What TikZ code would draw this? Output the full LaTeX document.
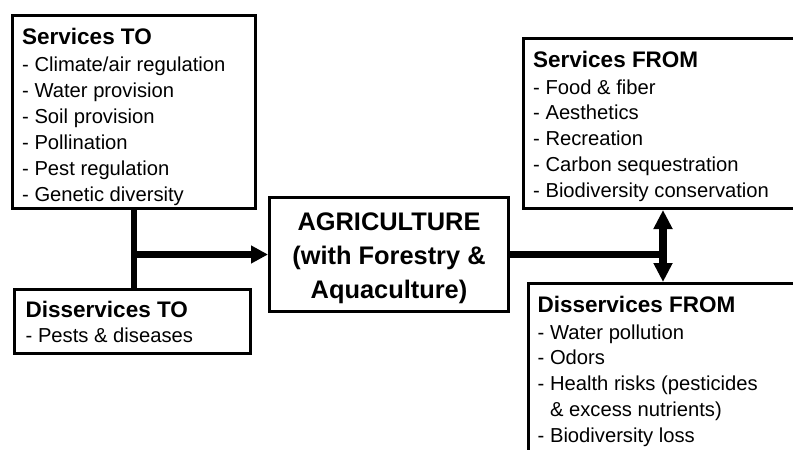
\documentclass[tikz,border=0pt]{standalone}
\usepackage{fontspec}
\setmainfont{Liberation Sans}
\usetikzlibrary{arrows.meta}
\begin{document}
\begin{tikzpicture}[x=1pt,y=-1pt,
  box/.style={draw, line width=3pt, inner sep=0pt},
  hd/.style={font=\fontsize{22.5}{27}\selectfont\bfseries, anchor=base west, inner sep=0pt},
  bd/.style={font=\fontsize{20.2}{26}\selectfont, anchor=base west, inner sep=0pt},
  ag/.style={font=\fontsize{25.4}{34}\selectfont\bfseries, anchor=base, inner sep=0pt},
  conn/.style={line width=6.5pt},
  connr/.style={line width=7.5pt},
  tipl/.style={-{Triangle[length=17pt,width=17pt]}},
  tipr/.style={{Triangle[length=19pt,width=18pt]}-{Triangle[length=19pt,width=18pt]}}]
\useasboundingbox (0,0) rectangle (793,450);
\clip (0,0) rectangle (793,450);
\fill[white] (0,0) rectangle (793,450);
% boxes
\node[box, minimum width=243pt, minimum height=193pt] (sto) at (134,112) {};
\node[box, minimum width=236pt, minimum height=64pt] (dto) at (132.5,321.5) {};
\node[box, minimum width=239pt, minimum height=114pt] (agri) at (389,254.5) {};
\node[box, minimum width=300pt, minimum height=170pt] (sfrom) at (673.5,123.5) {};
\node[box, minimum width=300pt, minimum height=200pt] (dfrom) at (678.5,383.5) {};
% connectors
\draw[conn] (sto.south) -- (sto.south |- dto.north);
\coordinate (jl) at (sto.south |- agri.west);
\draw[conn, tipl] (jl) -- (agri.west);
\coordinate (jr) at (663,254.5);
\draw[connr] (agri.east) -- (jr);
\draw[connr, tipr] (jr |- sfrom.south) -- (jr |- dfrom.north);
% texts
\node[hd] (stoh) at (22,44) {Services TO};
\node[bd] (sto1) at (22,71.5) {- Climate/air regulation};
\node[bd] (sto2) at (22,97.5) {- Water provision};
\node[bd] (sto3) at (22,123.5) {- Soil provision};
\node[bd] (sto4) at (22,149.5) {- Pollination};
\node[bd] (sto5) at (22,175.5) {- Pest regulation};
\node[bd] (sto6) at (22,201.5) {- Genetic diversity};
\node[hd] (dtoh) at (25.5,317) {Disservices TO};
\node[bd] (dto1) at (25.5,342) {- Pests \& diseases};
\node[ag] (ag1) at (389,230) {AGRICULTURE};
\node[ag] (ag2) at (389,264) {(with Forestry \&};
\node[ag] (ag3) at (389,298) {Aquaculture)};
\node[hd] (sfh) at (533,67) {Services FROM};
\node[bd] (sf1) at (533,94) {- Food \& fiber};
\node[bd] (sf2) at (533,119.8) {- Aesthetics};
\node[bd] (sf3) at (533,145.6) {- Recreation};
\node[bd] (sf4) at (533,171.4) {- Carbon sequestration};
\node[bd] (sf5) at (533,197.2) {- Biodiversity conservation};
\node[hd] (dfh) at (537.5,312) {Disservices FROM};
\node[bd] (df1) at (537.5,339) {- Water pollution};
\node[bd] (df2) at (537.5,364.75) {- Odors};
\node[bd] (df3) at (537.5,390.5) {- Health risks (pesticides};
\node[bd] (df4) at (537.5,416.25) {\phantom{-} \& excess nutrients)};
\node[bd] (df5) at (537.5,442) {- Biodiversity loss};
\end{tikzpicture}
\end{document}
